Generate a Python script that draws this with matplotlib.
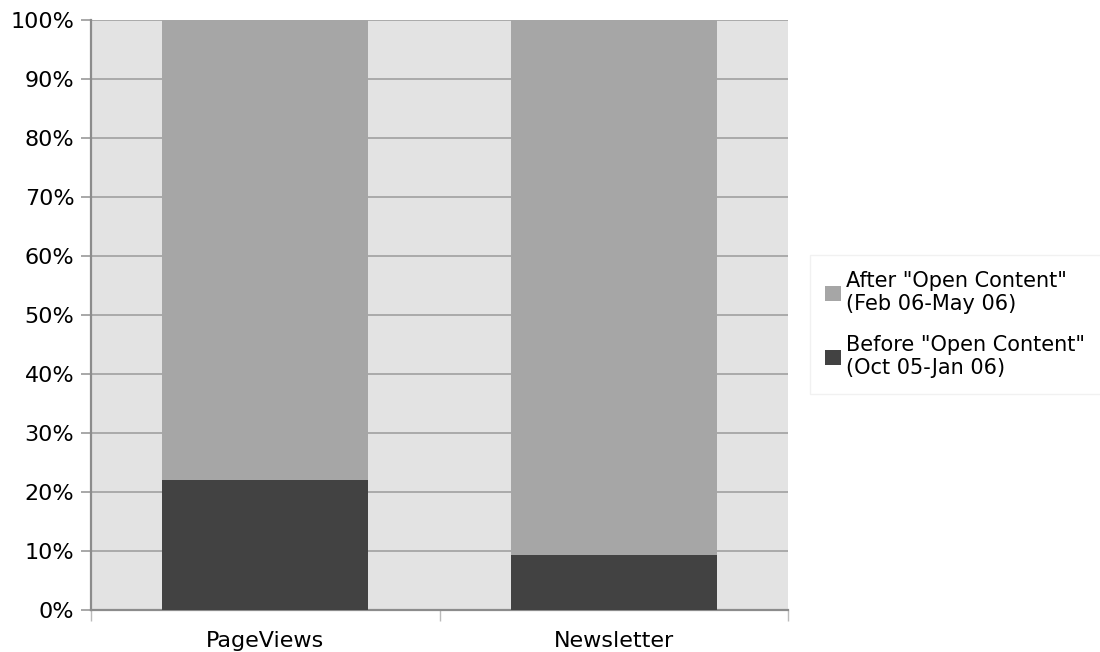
import matplotlib.pyplot as plt
from matplotlib.ticker import PercentFormatter

categories = ["PageViews", "Newsletter"]
before_pct = [22.0, 9.4]
after_pct = [78.0, 90.6]
labels = ['Before "Open Content"\n(Oct 05-Jan 06)', 'After "Open Content"\n(Feb 06-May 06)']
yticks = list(range(0, 101, 10))

plt.rcParams['font.family'] = ['DejaVu Sans']

fig = plt.figure(figsize=(11, 6.52), dpi=100)
ax = fig.add_axes([0.0827, 0.0644, 0.6337, 0.905])
ax.set_facecolor('#e3e3e3')

x = list(range(len(categories)))
b1 = ax.bar(x, before_pct, width=0.59, color='#424242', label=labels[0], zorder=3)
b2 = ax.bar(x, after_pct, width=0.59, bottom=before_pct, color='#a6a6a6', label=labels[1], zorder=3)

ax.set_xlim(-0.5, len(categories) - 0.5)
ax.set_ylim(0, 100)
ax.set_yticks(yticks)
ax.yaxis.set_major_formatter(PercentFormatter(decimals=0))
ax.tick_params(axis='y', labelsize=16, length=7, color='#999999', width=1.2, pad=5)
ax.grid(axis='y', color='#a0a0a0', linewidth=1.2, zorder=1)

# category labels centred, boundary ticks
ax.set_xticks([i - 0.5 for i in range(len(categories) + 1)])
ax.set_xticklabels([])
ax.set_xticks(x, minor=True)
ax.set_xticklabels(categories, minor=True)
ax.tick_params(axis='x', which='major', length=8, color='#bbbbbb', width=1)
ax.tick_params(axis='x', which='minor', length=0, labelsize=16, pad=15)

for s in ['top', 'right']:
    ax.spines[s].set_visible(False)
ax.spines['left'].set_color('#8c8c8c')
ax.spines['left'].set_linewidth(1.6)
ax.spines['bottom'].set_color('#8c8c8c')
ax.spines['bottom'].set_linewidth(1.6)

leg = fig.legend([b2, b1], [labels[1], labels[0]], loc='center left',
                 bbox_to_anchor=(0.736, 0.502), fontsize=15, handlelength=0.75,
                 handleheight=0.75, handletextpad=0.25, labelspacing=1.0,
                 fancybox=False, borderpad=0.75, borderaxespad=0)
leg.get_frame().set_edgecolor('#eeeeee')
leg.get_frame().set_linewidth(1)

fig.savefig('out.png', dpi=100)
